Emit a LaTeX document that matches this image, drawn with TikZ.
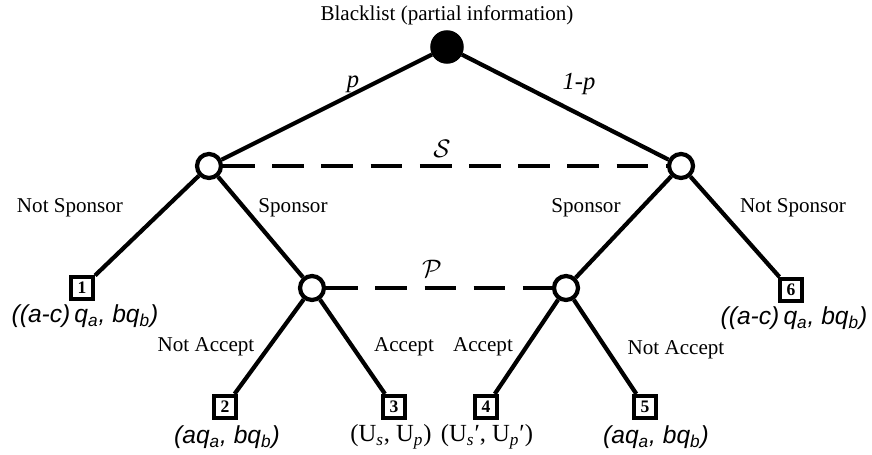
\documentclass[tikz,border=0pt]{standalone}
\usepackage{fontspec}
\setmainfont{Liberation Serif}
\newfontfamily\payfont{Liberation Sans}
\usetikzlibrary{positioning}

\begin{document}
\begin{tikzpicture}[x=0.02cm, y=-0.02cm,
          chance/.style={circle, fill=black, draw=black, line width=2pt,
                         minimum size=0.6cm, inner sep=0pt},
          infonode/.style={circle, fill=white, draw=black, line width=2.4pt,
                           minimum size=0.48cm, inner sep=0pt},
          leaf/.style={rectangle, fill=white, draw=black, line width=2.4pt,
                       minimum size=0.44cm, inner sep=0pt,
                       font=\fontsize{10}{11}\selectfont\bfseries},
          branch/.style={line width=2.4pt},
          infoset/.style={line width=2.4pt, dash pattern=on 18pt off 10pt},
          act/.style={font=\fontsize{12}{14}\selectfont},
          prob/.style={font=\fontsize{14}{16}\selectfont\itshape},
          pay/.style={font=\fontsize{14}{16}\selectfont\payfont\itshape}
        ]
        \useasboundingbox (0,0) rectangle (872,455);

        % Title and root
        \node[act] (title) at (447, 15) {Blacklist (partial information)};
        \node[chance] (root) at (447, 47) {};

        % Sponsor's information set
        \node[infonode] (infoL) at (209, 166) {};
        \node[infonode] (infoR) at (681, 166) {};

        % Partner's information set
        \node[infonode] (partL) at (312, 288) {};
        \node[infonode] (partR) at (566, 288) {};

        % Terminal nodes
        \node[leaf] (leaf1) at (82, 288) {1};
        \node[leaf] (leaf6) at (791, 290) {6};
        \node[leaf] (leaf2) at (225, 407) {2};
        \node[leaf] (leaf3) at (394, 407) {3};
        \node[leaf] (leaf4) at (486, 407) {4};
        \node[leaf] (leaf5) at (645, 407) {5};

        % Branches
        \draw[branch] (root) -- (infoL);
        \draw[branch] (root) -- (infoR);
        \draw[branch] (infoL) -- (leaf1);
        \draw[branch] (infoL) -- (partL);
        \draw[branch] (infoR) -- (partR);
        \draw[branch] (infoR) -- (leaf6);
        \draw[branch] (partL) -- (leaf2);
        \draw[branch] (partL) -- (leaf3);
        \draw[branch] (partR) -- (leaf4);
        \draw[branch] (partR) -- (leaf5);

        % Information sets
        \draw[infoset] (infoL) -- (infoR);
        \draw[infoset] (partL) -- (partR);
        \node[font=\fontsize{15}{16}\selectfont] (labS) at (442, 149) {$\mathcal{S}$};
        \node[font=\fontsize{15}{16}\selectfont] (labP) at (432, 269) {$\mathcal{P}$};

        % Probabilities
        \node[prob] (probL) at (353, 84) {p};
        \node[prob] (probR) at (579, 84) {1-p};

        % Actions
        \node[act] (nsL) at (70, 208) {Not Sponsor};
        \node[act] (spL) at (293, 208) {Sponsor};
        \node[act] (spR) at (586, 208) {Sponsor};
        \node[act] (nsR) at (793, 208) {Not Sponsor};
        \node[act] (naL) at (206, 347) {Not Accept};
        \node[act] (acL) at (404, 347) {Accept};
        \node[act] (acR) at (483, 347) {Accept};
        \node[act] (naR) at (676, 350) {Not Accept};

        % Payoffs
        \node[pay] (pay1) at (85, 316)
              {((a-c)\,q\textsubscript{a}, bq\textsubscript{b})};
        \node[pay] (pay6) at (794, 318)
              {((a-c)\,q\textsubscript{a}, bq\textsubscript{b})};
        \node[pay] (pay2) at (227, 437) {(aq\textsubscript{a}, bq\textsubscript{b})};
        \node[pay] (pay5) at (656, 437) {(aq\textsubscript{a}, bq\textsubscript{b})};
        \node[font=\fontsize{14}{16}\selectfont] (pay3) at (391, 437)
              {(U\textsubscript{\itshape s}, U\textsubscript{\itshape p})};
        \node[font=\fontsize{14}{16}\selectfont] (pay4) at (487, 437)
              {(U\textsubscript{\itshape s}′, U\textsubscript{\itshape p}′)};
      \end{tikzpicture}
\end{document}
